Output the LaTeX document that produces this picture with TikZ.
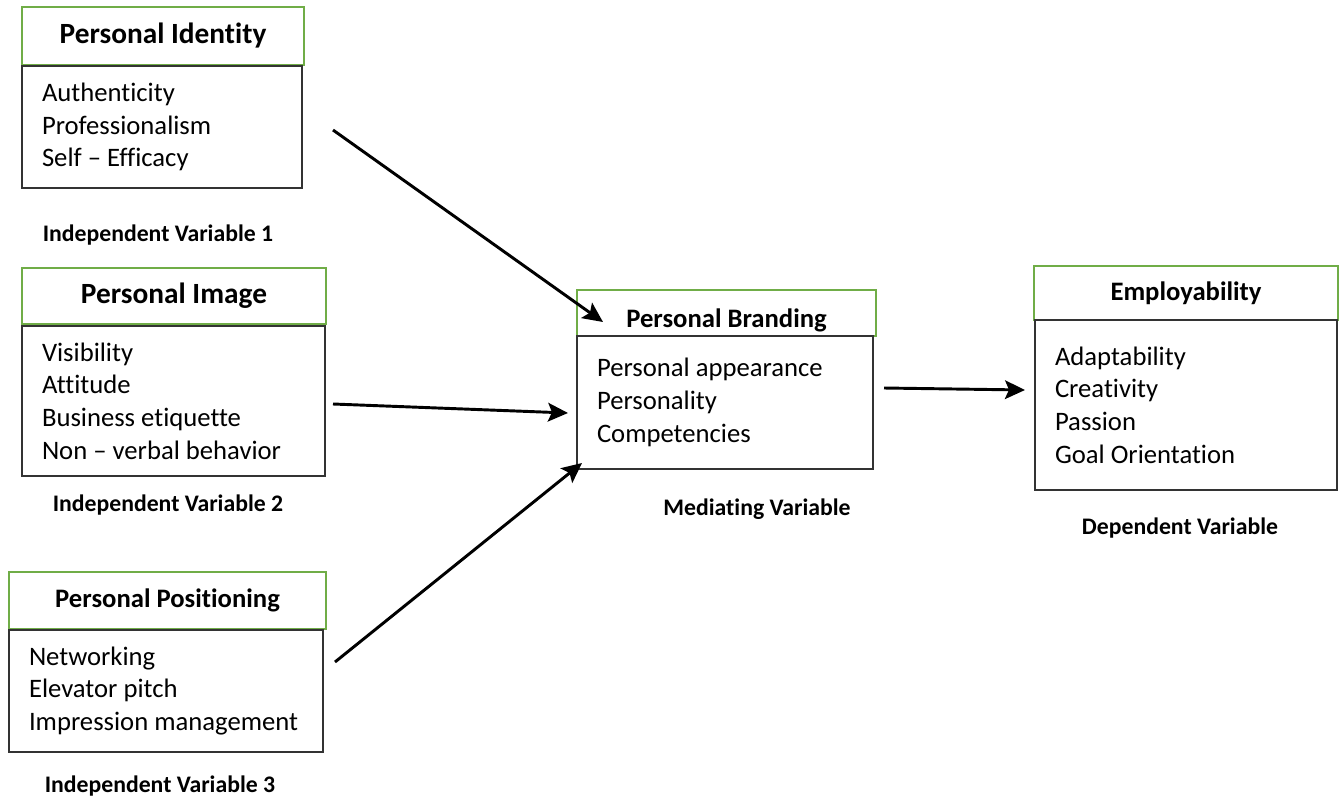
\documentclass[tikz,border=0pt]{standalone}
\usepackage{fontspec}
\setmainfont{Carlito}[Ligatures={TeX,NoCommon}]
\usetikzlibrary{arrows.meta}
\definecolor{boxgreen}{HTML}{70AD47}
\tikzset{
  head/.style={draw=boxgreen, line width=1.5pt, anchor=north west, inner sep=0pt, outer sep=0pt,
    font=\bfseries\fontsize{20}{24}\selectfont},
  body/.style={draw=black!80, line width=1pt, fill=white, anchor=north west, align=flush left,
    inner xsep=15pt, inner ysep=0pt, outer sep=0pt, font=\fontsize{20}{24.5}\selectfont},
  varlabel/.style={font=\bfseries\fontsize{17.8}{20}\selectfont},
}

\begin{document}
\begin{tikzpicture}[x=0.75pt,y=-0.75pt]
  \useasboundingbox (0,0) rectangle (1344,799);
  % independent variables
  \node[head,minimum width=211.5pt,minimum height=43.5pt,font=\bfseries\fontsize{22}{26}\selectfont] (idh) at (22,7) {Personal Identity};
  \node[body,text width=180pt,minimum height=91.5pt] (idb) at (22,66) {Authenticity\\Professionalism\\Self -- Efficacy};
  \node[varlabel] (l1) at (158,235) {Independent Variable 1};

  \node[head,minimum width=228pt,minimum height=42pt,font=\bfseries\fontsize{22}{26}\selectfont] (imh) at (22,268) {Personal Image};
  \node[body,text width=197.25pt,minimum height=112.5pt] (imb) at (22,326) {Visibility\\Attitude\\Business etiquette\\Non -- verbal behavior};
  \node[varlabel] (l2) at (168,505) {Independent Variable 2};

  \node[head,minimum width=237.75pt,minimum height=42.75pt] (poh) at (9,572) {Personal Positioning};
  \node[body,text width=205.5pt,minimum height=91.5pt] (pob) at (9,630) {Networking\\Elevator pitch\\Impression management};
  \node[varlabel] (l3) at (160,786) {Independent Variable 3};

  % mediating variable
  \node[head,minimum width=224.25pt,minimum height=34.5pt,text height=21.8pt,text depth=0pt] (brh) at (577,290) {Personal Branding};
  \node[body,text width=192pt,minimum height=99.75pt] (brb) at (577,336) {Personal appearance\\Personality\\Competencies};
  \node[varlabel] (lm) at (757,509) {Mediating Variable};

  % dependent variable
  \node[head,minimum width=228pt,minimum height=40.5pt] (emh) at (1034,266) {Employability};
  \node[body,text width=196.5pt,minimum height=127.5pt] (emb) at (1035,320) {Adaptability\\Creativity\\Passion\\Goal Orientation};
  \node[varlabel] (ld) at (1180,528) {Dependent Variable};

  % arrows
  \coordinate (a1s) at (333,130);  \coordinate (a1e) at (603,322);
  \coordinate (a2s) at (333,404);  \coordinate (a2e) at (568,413);
  \coordinate (a3s) at (335,662);  \coordinate (a3e) at (582,463);
  \coordinate (a4s) at (884,388);  \coordinate (a4e) at (1025,390);
  \path[-{Stealth[length=15pt,width=14pt,inset=3pt]},line width=2.2pt]
    (a1s) edge (a1e)
    (a2s) edge (a2e)
    (a3s) edge (a3e)
    (a4s) edge (a4e);
\end{tikzpicture}
\end{document}
